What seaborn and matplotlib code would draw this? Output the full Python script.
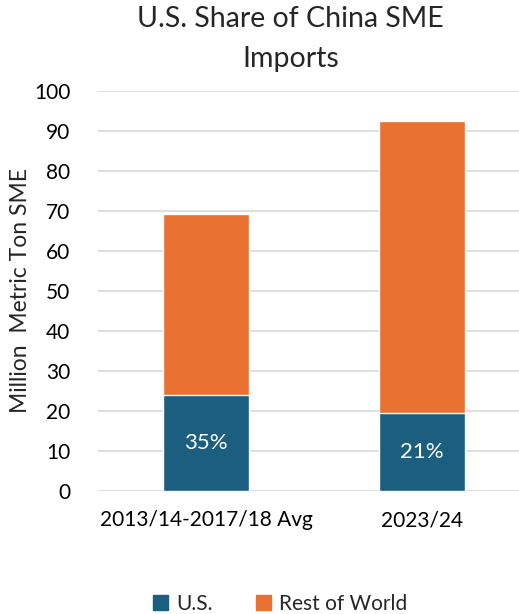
import matplotlib
matplotlib.use("Agg")
import matplotlib.pyplot as plt
import seaborn as sns
import pandas as pd
from matplotlib.patches import Patch

# values
periods = ["2013/14-2017/18 Avg", "2023/24"]
us_vals = [24.1, 19.5]
total_vals = [69.2, 92.5]
us_share = ["35%", "21%"]
series_names = ["U.S.", "Rest of World"]

blue = "#1B5E80"
orange = "#E97132"

df = pd.DataFrame({"period": periods, "us": us_vals, "total": total_vals})

sns.set_style("white")
plt.rcParams["font.family"] = ["Lato", "DejaVu Sans"]

fig = plt.figure(figsize=(5.19, 6.14), dpi=100)
ax = fig.add_axes([0.189, 0.2003, 0.832, 0.6517])

# stacked: draw total (orange) then U.S. (blue) on top
sns.barplot(data=df, x="period", y="total", color=orange, width=0.4,
            saturation=1, ax=ax, zorder=2)
sns.barplot(data=df, x="period", y="us", color=blue, width=0.4,
            saturation=1, ax=ax, zorder=3)

for i, lab in enumerate(us_share):
    ax.text(i, us_vals[i] / 2, lab, ha="center", va="center",
            color="white", fontsize=16, zorder=4)

ax.set_ylim(0, 100)
ax.set_yticks(range(0, 101, 10))
ax.set_xlim(-0.5, 1.5)
ax.yaxis.grid(True, color="#D9D9D9", linewidth=1.2, zorder=0)
ax.set_axisbelow(True)
for s in ax.spines.values():
    s.set_visible(False)
ax.tick_params(axis="both", length=0, labelsize=15, colors="#000000")
ax.tick_params(axis="x", pad=14)
ax.tick_params(axis="y", pad=20)
ax.set_xlabel("")
ax.set_ylabel("Million  Metric Ton SME", fontsize=16.5, labelpad=2)

fig.suptitle("U.S. Share of China SME\nImports", fontsize=20.5, x=0.56, y=0.99,
             linespacing=1.65)

handles = [Patch(color=blue), Patch(color=orange)]
fig.legend(handles, series_names, loc="lower center", bbox_to_anchor=(0.54, -0.03),
           ncol=2, frameon=False, fontsize=15, handlelength=0.7, handleheight=0.7,
           columnspacing=2.1, handletextpad=0.4)

fig.savefig("out.png", dpi=100)
